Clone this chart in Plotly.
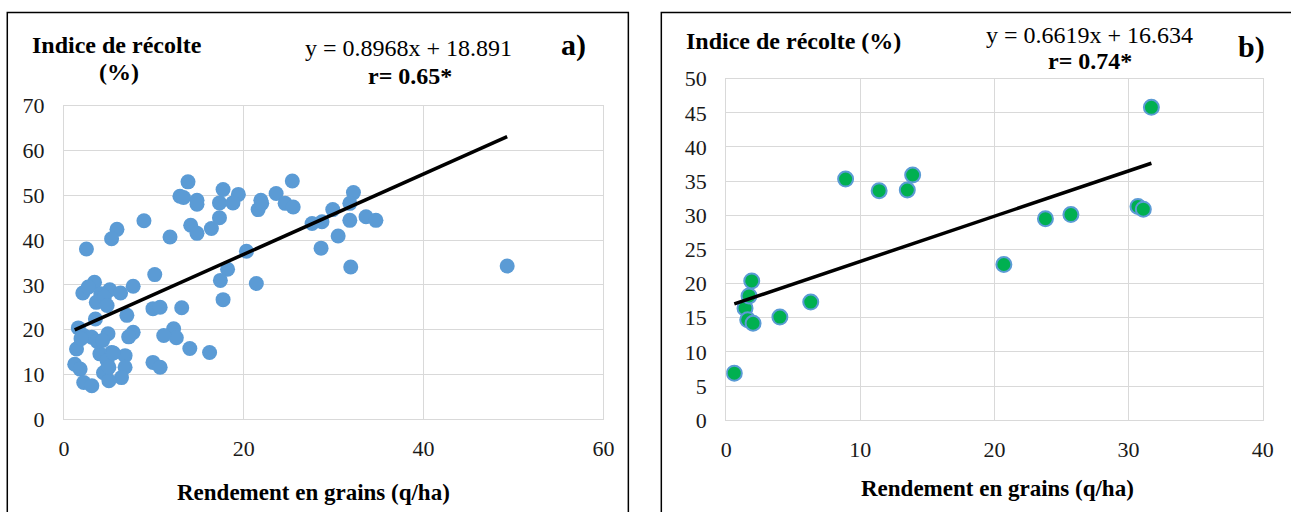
import plotly.graph_objects as go

# ---------------- data: panel a ----------------
a_x = [13.8, 25.4, 17.7, 19.4, 12.9, 13.3, 14.8, 14.8, 17.3, 18.8, 21.9, 21.6, 22.0, 23.6,
       24.6, 25.5, 32.2, 31.8, 29.9, 27.6, 28.7, 31.8, 33.6, 34.7, 30.5, 28.6, 31.9, 49.3,
       17.3, 16.4, 14.1, 14.8, 11.8, 8.9, 5.9, 5.3, 2.5, 20.3, 18.2, 17.4, 21.4, 17.7,
       10.1, 7.7, 13.1, 9.9, 10.7, 7.0, 14.0, 16.2, 12.2, 12.5, 11.1, 7.7, 7.2, 9.9,
       10.7, 6.8, 6.8, 6.4,
       2.1, 3.4, 5.1, 6.3, 2.7, 4.1, 3.6, 4.5, 4.8, 3.5, 1.6, 2.2, 3.1, 4.9,
       1.4, 4.0, 5.3, 1.2, 1.8, 4.7, 4.4, 5.0, 2.2, 3.1, 3.7, 4.3, 4.8, 1.9, 5.0, 5.5]
a_y = [53.0, 53.2, 51.3, 50.2, 49.8, 49.5, 48.9, 48.0, 48.3, 48.3, 48.9, 46.8, 48.2, 50.4,
       48.2, 47.4, 50.6, 48.2, 46.8, 43.7, 44.1, 44.4, 45.2, 44.4, 40.9, 38.2, 34.0, 34.2,
       45.0, 42.6, 43.3, 41.5, 40.7, 44.3, 42.4, 40.3, 38.0, 37.5, 33.5, 31.0, 30.3, 26.7,
       32.3, 29.7, 24.9, 24.7, 25.0, 23.2, 15.8, 14.9, 20.2, 18.2, 18.7, 19.4, 18.4, 12.7,
       11.6, 14.2, 11.6, 9.3,
       28.2, 30.6, 28.9, 28.2, 29.5, 28.0, 26.1, 27.3, 25.4, 22.4, 20.4, 18.7, 18.3, 19.1,
       15.7, 14.6, 14.9, 12.3, 11.2, 10.8, 10.4, 8.6, 8.2, 7.5, 17.4, 17.6, 13.1, 18.0, 11.6, 14.8]
a_slope, a_intercept = 0.8968, 18.891
a_label = "y = 0.8968x + 18.891"
a_r = "r= 0.65*"

# ---------------- data: panel b ----------------
b_x = [0.6, 1.4, 1.6, 2.0, 1.7, 1.9, 4.0, 6.3, 8.9, 11.4, 13.5, 13.9, 20.7, 23.8, 25.7, 30.7, 31.1, 31.7]
b_y = [6.9, 16.4, 14.7, 14.2, 18.2, 20.4, 15.1, 17.3, 35.3, 33.6, 33.7, 35.9, 22.8, 29.5, 30.1, 31.3, 30.9, 45.8]
b_slope, b_intercept = 0.6619, 16.634
b_label = "y = 0.6619x + 16.634"
b_r = "r= 0.74*"

a_xticks = [0, 20, 40, 60]
a_yticks = [0, 10, 20, 30, 40, 50, 60, 70]
b_xticks = [0, 10, 20, 30, 40]
b_yticks = [0, 5, 10, 15, 20, 25, 30, 35, 40, 45, 50]

y_title = "Indice de récolte"
x_title = "Rendement en grains (q/ha)"

W, H = 1305, 530
FONT = "Liberation Serif"
GRID = "#D9D9D9"

# map target page positions to figure paper fractions (measured page offset/scale)
def px(x):
    return ((x - 7.0) / 0.988) / W

def py(y):
    return 1 - ((y - 11.5) / 0.951) / H

fig = go.Figure()

fig.add_trace(go.Scatter(x=a_x, y=a_y, mode="markers", xaxis="x", yaxis="y",
                         marker=dict(size=15, color="#5B9BD5", line=dict(width=0)),
                         showlegend=False))
ax0, ax1 = min(a_x), max(a_x)
fig.add_trace(go.Scatter(x=[ax0, ax1], y=[a_slope * ax0 + a_intercept, a_slope * ax1 + a_intercept],
                         mode="lines", xaxis="x", yaxis="y",
                         line=dict(color="black", width=3.5), showlegend=False))

fig.add_trace(go.Scatter(x=b_x, y=b_y, mode="markers", xaxis="x2", yaxis="y2",
                         marker=dict(size=15, color="#00B050", line=dict(width=2, color="#5B9BD5")),
                         showlegend=False))
bx0, bx1 = min(b_x), max(b_x)
fig.add_trace(go.Scatter(x=[bx0, bx1], y=[b_slope * bx0 + b_intercept, b_slope * bx1 + b_intercept],
                         mode="lines", xaxis="x2", yaxis="y2",
                         line=dict(color="black", width=3.5), showlegend=False))

TICKFONT = dict(family=FONT, size=22, color="#1a1a1a")
axis_common = dict(showgrid=True, gridcolor=GRID, gridwidth=1, zeroline=False,
                   showline=True, linecolor=GRID, linewidth=1, mirror=True,
                   ticks="outside", tickcolor="rgba(0,0,0,0)")

fig.update_layout(
    width=W, height=H, margin=dict(l=0, r=0, t=0, b=0),
    font=dict(family=FONT, size=22, color="black"),
    paper_bgcolor="white", plot_bgcolor="white",
    xaxis=dict(domain=[px(65), px(605)], range=[0, 60], tickvals=a_xticks, anchor="y",
               ticklen=9, tickfont=TICKFONT, **axis_common),
    yaxis=dict(domain=[py(418), py(105)], range=[0, 70], tickvals=a_yticks, anchor="x",
               ticklen=14, tickfont=TICKFONT, **axis_common),
    xaxis2=dict(domain=[px(728), px(1265)], range=[0, 40], tickvals=b_xticks, anchor="y2",
                ticklen=9, tickfont=TICKFONT, **axis_common),
    yaxis2=dict(domain=[py(419), py(78)], range=[0, 50], tickvals=b_yticks, anchor="x2",
                ticklen=14, tickfont=TICKFONT, **axis_common),
)

# panel frames
fig.add_shape(type="rect", xref="paper", yref="paper", x0=max(px(6), 0.001), x1=px(630),
              y0=-0.05, y1=min(py(10), 0.999),
              line=dict(color="black", width=1.5), layer="above")
fig.add_shape(type="rect", xref="paper", yref="paper", x0=px(663), x1=1.05,
              y0=-0.05, y1=min(py(5), 0.999),
              line=dict(color="black", width=1.5), layer="above")

def ann(text, x, y, size, bold=False):
    fig.add_annotation(text=f"<b>{text}</b>" if bold else text, x=px(x), y=py(y),
                       xref="paper", yref="paper", showarrow=False,
                       xanchor="center", yanchor="middle",
                       font=dict(family=FONT, size=size, color="black"))

# panel a texts
ann(y_title, 118, 44, 24, bold=True)
ann("(%)", 120, 71, 24, bold=True)
ann(a_label, 410, 47, 24)
ann(a_r, 411, 75, 24, bold=True)
ann("a)", 575, 44, 30, bold=True)
ann(x_title, 315, 491, 23, bold=True)

# panel b texts
ann(y_title + " (%)", 795, 40, 24, bold=True)
ann(b_label, 1092, 34, 24)
ann(b_r, 1092, 60, 24, bold=True)
ann("b)", 1254, 46, 30, bold=True)
ann(x_title, 1000, 487, 23, bold=True)

fig.write_html("out.html")
